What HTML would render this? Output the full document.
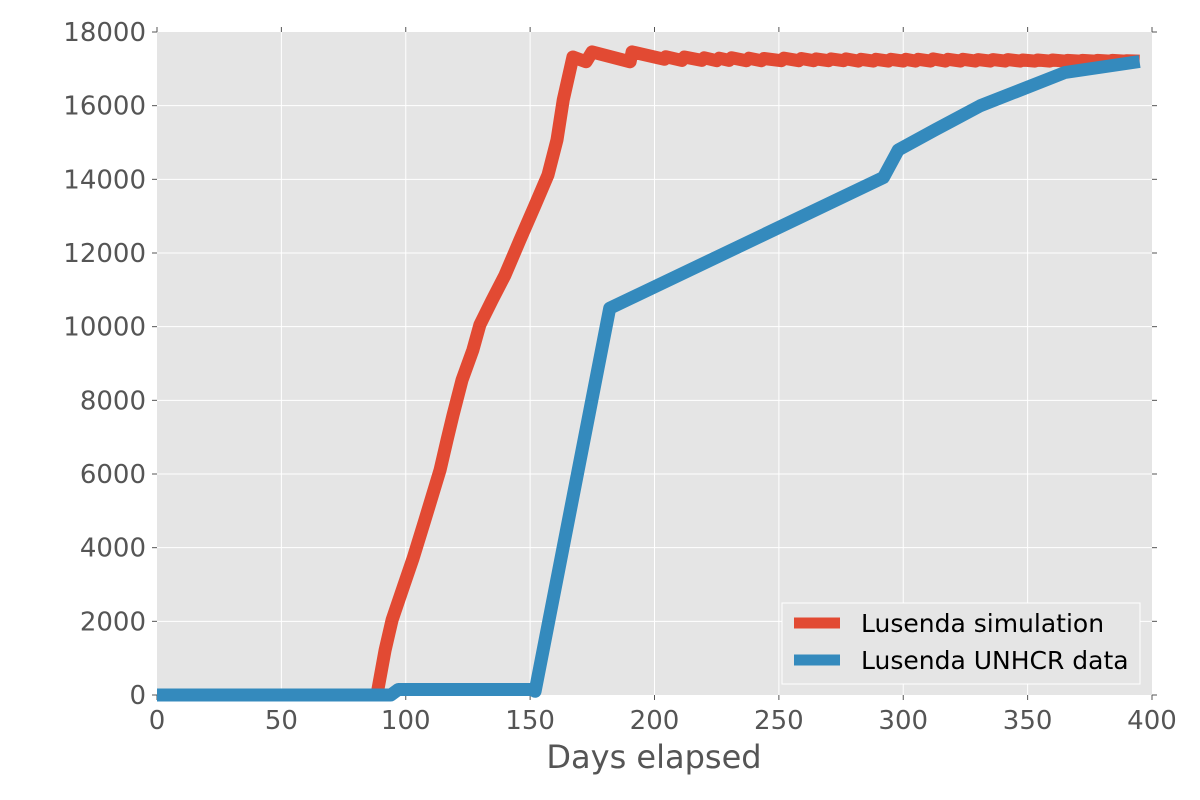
<!DOCTYPE html>
<html><head><meta charset="utf-8"><style>
html,body{margin:0;padding:0;background:#fff;}
svg{display:block;font-family:"DejaVu Sans","Liberation Sans",sans-serif;}
</style></head><body>
<svg id="chart" width="1200" height="800" viewBox="0 0 1200 800" xmlns="http://www.w3.org/2000/svg">
<rect x="157" y="32" width="995" height="663" fill="#e5e5e5"/>
<g id="grid"></g>
<g id="ticks"></g>
<g id="series"></g>
<text x="654" y="768" font-size="32" fill="#555" text-anchor="middle">Days elapsed</text>
<g>
<rect x="782" y="603" width="358" height="81" fill="#e5e5e5" stroke="#fff" stroke-width="1"/>
<line x1="794" y1="623" x2="840" y2="623" stroke="#e24a33" stroke-width="11"/>
<text x="861" y="632" font-size="25" fill="#000">Lusenda simulation</text>
<line x1="794" y1="660" x2="840" y2="660" stroke="#348abd" stroke-width="11"/>
<text x="861" y="669" font-size="25" fill="#000">Lusenda UNHCR data</text>
</g>
</svg>
<script>
const xTicks=[0,50,100,150,200,250,300,350,400];
const yTicks=[0,2000,4000,6000,8000,10000,12000,14000,16000,18000];
const simDays=[0,88.4,91.7,94.5,99.3,103,107.7,113.8,116.6,119,122.6,127,129.8,134.7,139.9,145.9,152,157.2,160.8,163.3,167.2,172.5,174.9,190.2,191,204,204.5,211,212,219,220,225,226,230,231,237,238,243,244,251,252,258,259,264,265,270,271,276,277,282,283,288,289,294,295,300,301,305,306,311,312,317,318,323,324,329,330,335,336,341,342,347,348,353,354,359,360,365,366,371,372,377,378,383,384,389,390,395];
const simVals=[0,0,1220,2040,2990,3720,4750,6110,6920,7600,8550,9370,10050,10720,11400,12350,13300,14120,15070,16150,17320,17190,17460,17190,17460,17260,17330,17230,17320,17230,17300,17220,17290,17230,17300,17220,17290,17220,17280,17220,17290,17220,17280,17220,17270,17220,17270,17220,17270,17210,17260,17210,17260,17210,17260,17210,17260,17210,17260,17210,17270,17210,17260,17210,17260,17210,17250,17210,17250,17210,17250,17210,17240,17210,17240,17210,17240,17210,17230,17210,17230,17210,17230,17210,17230,17210,17220,17210];
const dataDays=[0,94,97,151,152,182,292,298,313,331,365,395];
const dataVals=[0,0,150,150,100,10500,14050,14800,15350,16000,16900,17200];
const X0=157,X1=1152,Y0=695,Y1=32;
function xs(d){return X0+(d-0)/(400-0)*(X1-X0);}
function ys(v){return Y0-(v-0)/(18000-0)*(Y0-Y1);}
const NS="http://www.w3.org/2000/svg";
const grid=document.getElementById('grid'),ticks=document.getElementById('ticks'),series=document.getElementById('series');
function mk(tag,attrs,parent){const e=document.createElementNS(NS,tag);for(const k in attrs)e.setAttribute(k,attrs[k]);parent.appendChild(e);return e;}
xTicks.forEach(t=>{
 const x=xs(t);
 if(t>0&&t<400){const g=mk('line',{x1:x,x2:x,y1:Y1,y2:Y0,stroke:'#fff','stroke-width':1},grid);
 
 }
 mk('line',{x1:x,x2:x,y1:Y0,y2:Y0+5,stroke:'#555','stroke-width':1},ticks);
 mk('line',{x1:x,x2:x,y1:Y1,y2:Y1-5,stroke:'#555','stroke-width':1},ticks);
 const tx=mk('text',{x:x,y:Y0+34,'font-size':26,fill:'#555','text-anchor':'middle'},ticks);
 tx.textContent=t;
 
 
});
yTicks.forEach(t=>{
 const y=ys(t);
 if(t>0&&t<18000){const g=mk('line',{x1:X0,x2:X1,y1:y,y2:y,stroke:'#fff','stroke-width':1},grid);
 
 }
 mk('line',{x1:X0-5,x2:X0,y1:y,y2:y,stroke:'#555','stroke-width':1},ticks);
 mk('line',{x1:X1,x2:X1+5,y1:y,y2:y,stroke:'#555','stroke-width':1},ticks);
 const tx=mk('text',{x:146,y:y+9,'font-size':26,fill:'#555','text-anchor':'end'},ticks);
 tx.textContent=t;
 
 
});
function pathOf(d,v){return d.map((di,i)=>(i?'L':'M')+xs(di).toFixed(1)+','+ys(v[i]).toFixed(1)).join('');}
const pSim=mk('path',{d:pathOf(simDays,simVals),fill:'none',stroke:'#e24a33','stroke-width':13,'stroke-linejoin':'round'},series);


const pData=mk('path',{d:pathOf(dataDays,dataVals),fill:'none',stroke:'#348abd','stroke-width':13,'stroke-linejoin':'round'},series);


</script>
</body></html>
